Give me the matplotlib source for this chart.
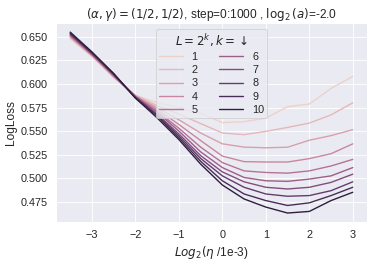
import numpy as np
import matplotlib
matplotlib.use("Agg")
import matplotlib.pyplot as plt
import seaborn as sns

# log2(eta / 1e-3)
log_eta = [-3.5, -3.0, -2.5, -2.0, -1.5, -1.0, -0.5, 0.0, 0.5, 1.0, 1.5, 2.0, 2.5, 3.0]

# one LogLoss curve per depth k (L = 2^k)
ks = [1, 2, 3, 4, 5, 6, 7, 8, 9, 10]
loss_k1 = [0.648, 0.629, 0.607, 0.588, 0.580, 0.575, 0.569, 0.559, 0.560, 0.5637, 0.5759, 0.5787, 0.5952, 0.608]
loss_k2 = [0.649, 0.630, 0.607, 0.588, 0.577, 0.568, 0.558, 0.548, 0.5462, 0.5497, 0.5539, 0.5585, 0.5672, 0.580]
loss_k3 = [0.650, 0.630, 0.608, 0.587, 0.575, 0.562, 0.548, 0.5365, 0.533, 0.5323, 0.5329, 0.5403, 0.5452, 0.5515]
loss_k4 = [0.651, 0.631, 0.608, 0.587, 0.573, 0.557, 0.540, 0.5235, 0.5176, 0.5172, 0.5172, 0.5208, 0.526, 0.5365]
loss_k5 = [0.651, 0.631, 0.609, 0.587, 0.571, 0.553, 0.533, 0.5166, 0.5078, 0.5061, 0.5054, 0.5078, 0.513, 0.520]
loss_k6 = [0.652, 0.632, 0.609, 0.586, 0.570, 0.550, 0.528, 0.5113, 0.5008, 0.4973, 0.4967, 0.4991, 0.5025, 0.5113]
loss_k7 = [0.653, 0.632, 0.610, 0.586, 0.568, 0.547, 0.524, 0.5067, 0.4962, 0.4904, 0.4886, 0.4904, 0.4956, 0.5043]
loss_k8 = [0.653, 0.633, 0.610, 0.586, 0.567, 0.545, 0.521, 0.5025, 0.4904, 0.4833, 0.4809, 0.4816, 0.4868, 0.4962]
loss_k9 = [0.654, 0.633, 0.611, 0.585, 0.566, 0.543, 0.518, 0.4973, 0.4833, 0.4763, 0.4711, 0.4739, 0.4816, 0.4904]
loss_k10 = [0.655, 0.634, 0.611, 0.585, 0.564, 0.541, 0.515, 0.4928, 0.478, 0.4694, 0.4631, 0.4648, 0.4763, 0.4851]

curves = [loss_k1, loss_k2, loss_k3, loss_k4, loss_k5,
          loss_k6, loss_k7, loss_k8, loss_k9, loss_k10]

sns.set_theme(style="darkgrid", font_scale=1.15)
plt.rcParams['font.family'] = ['Liberation Sans', 'DejaVu Sans']

fig, ax = plt.subplots(figsize=(374 / 62, 265 / 62), dpi=62)
fig.subplots_adjust(left=0.15, right=0.981, top=0.913, bottom=0.162)

cmap = sns.cubehelix_palette(as_cmap=True)
norm = plt.Normalize(min(ks), max(ks))
for k, loss in zip(ks, curves):
    ax.plot(log_eta, loss, color=cmap(norm(k)), lw=1.6, label=str(k))

ax.set_xticks([-3, -2, -1, 0, 1, 2, 3])
ax.set_xlabel(r"$Log_2(\eta$ /1e-3)")
ax.set_ylabel("LogLoss")
ax.set_title(r"$(\alpha, \gamma)=(1/2,1/2)$, step=0:1000 , $\log_2(a)$=-2.0")
ax.legend(title=r"$L=2^k, k=\downarrow$", ncol=2, loc="upper center",
          labelspacing=0.3, borderpad=0.3, handlelength=2.2)

fig.savefig("out.png", dpi=62)
